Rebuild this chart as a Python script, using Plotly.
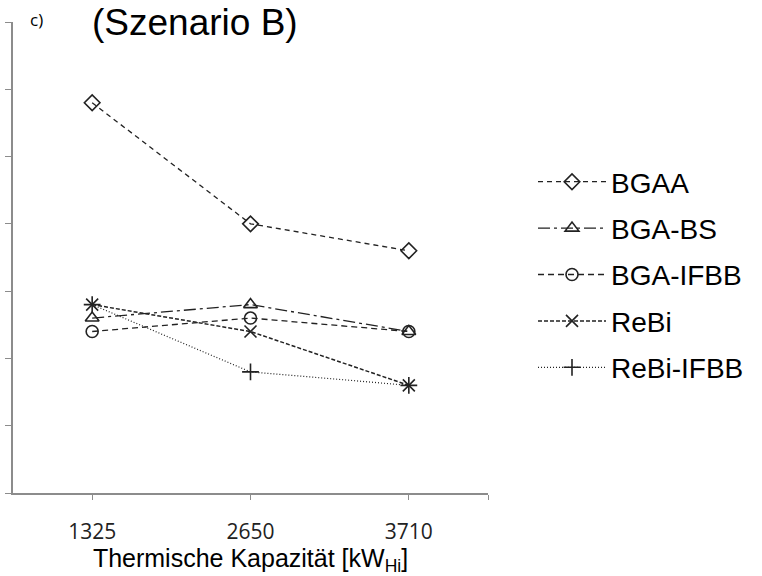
import plotly.graph_objects as go

categories = ["1325", "2650", "3710"]
series_names = ["BGAA", "BGA-BS", "BGA-IFBB", "ReBi", "ReBi-IFBB"]
bgaa = [5.8, 4.0, 3.6]
bga_bs = [2.6, 2.8, 2.4]
bga_ifbb = [2.4, 2.6, 2.4]
rebi = [2.8, 2.4, 1.6]
rebi_ifbb = [2.8, 1.8, 1.6]
values = [bgaa, bga_bs, bga_ifbb, rebi, rebi_ifbb]

symbols = ["diamond-open", "triangle-up-open", "circle-open", "x-thin-open", "cross-thin-open"]
dashes = ["5px,4px", "12px,4px,3px,4px", "6px,4px", "4px,2px", "1px,2px"]
widths = [1.3, 1.3, 1.3, 1.5, 1.2]
line_col = "#222222"

fig = go.Figure()
xpos = list(range(len(categories)))
for i, name in enumerate(series_names):
    fig.add_trace(go.Scatter(
        x=xpos, y=values[i], name=name, mode="lines+markers",
        legendgroup=name,
        line=dict(color=line_col, width=widths[i], dash=dashes[i]),
        marker=dict(symbol=symbols[i], size=12, color=line_col,
                    line=dict(color=line_col, width=1.6)),
    ))

W, H = 762, 576
L, R, T, B = 13, 274, 22, 83
pw, ph = W - L - R, H - T - B

fig.update_layout(
    width=W, height=H,
    margin=dict(l=L, r=R, t=T, b=B, autoexpand=False),
    paper_bgcolor="white", plot_bgcolor="white",
    font=dict(family="Liberation Sans, Arial, sans-serif", color="black"),
    showlegend=True,
    legend=dict(x=533 / W, y=1 - 157 / H, xref="container", yref="container",
                xanchor="left", yanchor="top",
                font=dict(size=28, family="Liberation Sans, Arial, sans-serif"),
                tracegroupgap=7, itemwidth=68, bgcolor="rgba(0,0,0,0)"),
    xaxis=dict(range=[-0.5, 2.5], tickmode="array",
               tickvals=[0, 1, 2, 2.5], ticktext=categories + [" "],
               showline=True, linecolor="#8c8c8c", linewidth=1.5,
               ticks="outside", ticklen=5, tickcolor="#8c8c8c", tickwidth=1.2,
               ticklabelstandoff=14,
               showgrid=False, zeroline=False,
               tickfont=dict(family="Open Sans, sans-serif", size=21, color="#222"),
               title=dict(text="Thermische Kapazität [kW<sub>Hi</sub>]",
                          font=dict(size=25, family="Liberation Sans, Arial, sans-serif"),
                          standoff=2)),
    yaxis=dict(range=[0, 7], dtick=1, showticklabels=False,
               showline=True, linecolor="#8c8c8c", linewidth=1.5,
               ticks="outside", ticklen=6, tickcolor="#8c8c8c", tickwidth=1.2,
               showgrid=False, zeroline=False),
    annotations=[
        dict(text="(Szenario B)", x=195 / W, y=1 - 22 / H, xref="paper", yref="paper",
             showarrow=False, font=dict(size=37), xanchor="center", yanchor="middle"),
        dict(text="c)", x=36 / W, y=1 - 19 / H, xref="paper", yref="paper",
             showarrow=False, font=dict(size=17, family="Open Sans, sans-serif"),
             xanchor="center", yanchor="middle"),
    ],
)

# convert container-fraction annotation positions to plot-domain paper coords
new_ann = []
for a in fig.layout.annotations:
    a = a.to_plotly_json()
    a["x"] = (a["x"] * W - L) / pw
    a["y"] = (a["y"] * H - B) / ph
    new_ann.append(a)
fig.layout.annotations = new_ann

fig.write_html("out.html")
